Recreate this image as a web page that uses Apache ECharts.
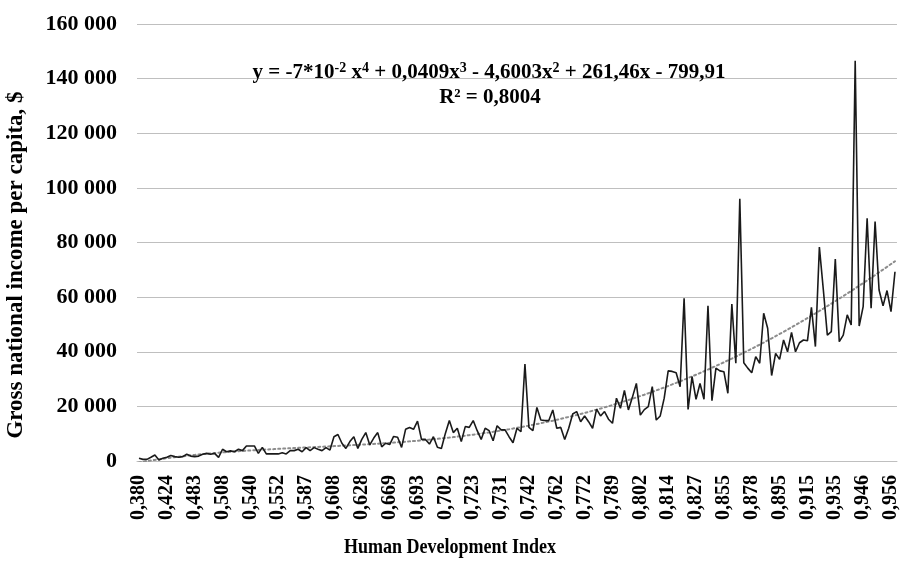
<!DOCTYPE html>
<html>
<head>
<meta charset="utf-8">
<script src="https://cdn.jsdelivr.net/npm/echarts@6/dist/echarts.min.js"></script>
<style>
html,body{margin:0;padding:0;background:#fff;}
#chart{width:901px;height:563px;}
</style>
</head>
<body>
<div id="chart"></div>
<script>
// Category labels (Human Development Index), sorted ascending
const hdiLabels = [
'0,380','0,394','0,396','0,404','0,407','0,412','0,418',
'0,424','0,427','0,433','0,435','0,438','0,452','0,460',
'0,483','0,485','0,486','0,491','0,494','0,497','0,505',
'0,508','0,513','0,515','0,521','0,524','0,532','0,536',
'0,540','0,541','0,542','0,543','0,545','0,548','0,549',
'0,552','0,552','0,555','0,557','0,560','0,575','0,580',
'0,587','0,588','0,594','0,597','0,600','0,602','0,603',
'0,608','0,609','0,611','0,612','0,614','0,625','0,627',
'0,628','0,629','0,632','0,638','0,640','0,647','0,665',
'0,669','0,671','0,672','0,677','0,681','0,688','0,690',
'0,693','0,694','0,696','0,697','0,698','0,699','0,701',
'0,702','0,703','0,705','0,707','0,710','0,717','0,720',
'0,723','0,724','0,725','0,726','0,727','0,728','0,730',
'0,731','0,732','0,733','0,735','0,737','0,738','0,740',
'0,742','0,743','0,745','0,747','0,750','0,754','0,759',
'0,762','0,764','0,765','0,766','0,767','0,769','0,771',
'0,772','0,774','0,776','0,778','0,780','0,782','0,785',
'0,789','0,791','0,793','0,795','0,796','0,798','0,800',
'0,802','0,804','0,806','0,807','0,808','0,811','0,813',
'0,814','0,815','0,816','0,817','0,818','0,820','0,822',
'0,827','0,830','0,832','0,838','0,843','0,847','0,850',
'0,855','0,857','0,860','0,862','0,864','0,868','0,874',
'0,878','0,880','0,882','0,884','0,886','0,888','0,890',
'0,895','0,897','0,900','0,901','0,903','0,906','0,910',
'0,915','0,917','0,919','0,921','0,923','0,927','0,931',
'0,935','0,937','0,938','0,939','0,941','0,943','0,945',
'0,946','0,948','0,950','0,952','0,952','0,954','0,955',
'0,956','0,957'
];

// Gross national income per capita, $
const gniValues = [
1000,600,600,1350,2200,400,1000,
1350,2000,1600,1350,1600,2450,1800,
1600,1800,2450,2800,2450,2800,1350,
4300,3400,3700,3400,4300,3800,5500,
5500,5500,2800,5000,2600,2600,2600,
2600,3000,2600,3800,3800,4300,3400,
4900,3800,4900,4300,3800,4900,4000,
8900,9700,6500,4600,7100,8900,4600,
7900,10400,5900,8400,10400,5200,6500,
6000,9000,8700,5000,11600,12300,11600,
14600,7900,7900,6200,8900,5000,4600,
10100,14800,10400,12000,7100,12600,12300,
14800,11100,7900,12000,11100,7400,12900,
11400,11400,8900,6700,12000,10700,35500,
12300,11100,19600,15000,14800,14800,18700,
12000,12300,7900,12000,17200,18100,14400,
16500,14400,12000,19000,16500,18100,15300,
13800,23000,19300,25800,18700,23300,28400,
16800,18800,19900,27200,15000,16500,23000,
33000,32800,32300,27200,59600,18900,30900,
22600,28400,22600,56800,22100,34000,33000,
32700,24800,57500,35800,96000,36000,34000,
32300,38200,35800,54100,48600,31300,39400,
37200,44300,40000,47100,40000,43300,44300,
44000,56300,41900,78300,62600,46100,47400,
73900,43700,46100,53500,49800,146500,49400,
56500,88900,55900,87700,62600,56800,62400,
54700,69300
];

// Polynomial trend coefficients as printed on the chart (x = category number)
const trendCoeffs = [-7e-5, 0.0409, -4.6003, 261.46, -799.91];
const equationText = '{a|y = -7*10}{s|-2}{a| x}{s|4}{a| + 0,0409x}{s|3}{a| - 4,6003x}{s|2}{a| + 261,46x - 799,91}';
const r2Text = 'R² = 0,8004';
const xTitle = 'Human Development Index';
const yTitle = 'Gross national income per capita, $';

const trendValues = hdiLabels.map((_, i) => {
  const x = i + 1;
  const [a, b, c, d, e] = trendCoeffs;
  return a*x*x*x*x + b*x*x*x + c*x*x + d*x + e;
});

const FONT = "'Liberation Serif','Times New Roman',serif";
const chart = echarts.init(document.getElementById('chart'), null, {renderer: 'canvas'});
chart.setOption({
  backgroundColor: '#fff',
  animation: false,
  grid: {left: 137, right: 3, top: 24, bottom: 102, containLabel: false},
  xAxis: {
    type: 'category',
    data: hdiLabels,
    boundaryGap: true,
    axisLine: {show: true, lineStyle: {color: '#bfbfbf', width: 1}},
    axisTick: {show: false},
    axisLabel: {
      interval: 6, rotate: 90, margin: 14,
      fontFamily: FONT, fontWeight: 'bold', fontSize: 20, color: '#000'
    },
    splitLine: {show: false}
  },
  yAxis: {
    type: 'value',
    min: 0, max: 160000, interval: 20000,
    axisLine: {show: false},
    axisTick: {show: false},
    axisLabel: {
      margin: 20, fontFamily: FONT, fontWeight: 'bold', fontSize: 22, color: '#000',
      formatter: v => String(v).replace(/\B(?=(\d{3})+(?!\d))/g, ' ')
    },
    splitLine: {lineStyle: {color: '#bfbfbf', width: 1}}
  },
  series: [
    {
      type: 'line', data: trendValues, symbol: 'none', clip: true, z: 2,
      lineStyle: {color: '#8c8c8c', width: 2, type: [2, 3], cap: 'round'}
    },
    {
      type: 'line', data: gniValues, symbol: 'none', z: 3,
      lineStyle: {color: '#1a1a1a', width: 1.6}
    }
  ],
  graphic: [
    {
      type: 'text', x: 489, y: 73, z: 10,
      style: {
        text: equationText, align: 'center', verticalAlign: 'middle',
        rich: {
          a: {fontFamily: FONT, fontWeight: 'bold', fontSize: 21, fill: '#000', lineHeight: 24},
          s: {fontFamily: FONT, fontWeight: 'bold', fontSize: 14, fill: '#000', verticalAlign: 'top', lineHeight: 24, padding: [0, 0, 6, 0]}
        }
      }
    },
    {
      type: 'text', x: 490, y: 98, z: 10,
      style: {text: r2Text, align: 'center', verticalAlign: 'middle',
        font: "bold 21px 'Liberation Serif'", fill: '#000'}
    },
    {
      type: 'text', x: 450, y: 548, scaleX: 0.9, z: 10,
      style: {text: xTitle, align: 'center', verticalAlign: 'middle',
        font: "bold 20px 'Liberation Serif'", fill: '#000'}
    },
    {
      type: 'text', x: 16, y: 265, rotation: Math.PI/2, z: 10,
      style: {text: yTitle, align: 'center', verticalAlign: 'middle',
        font: "bold 23px 'Liberation Serif'", fill: '#000'}
    }
  ]
});
</script>
</body>
</html>
